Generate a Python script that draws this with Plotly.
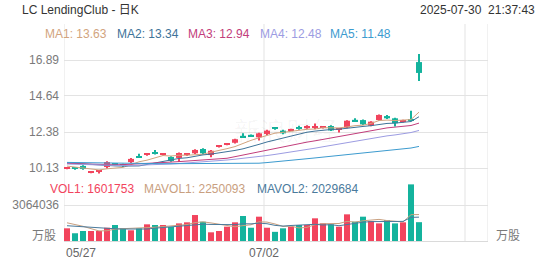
import plotly.graph_objects as go

# ---------------- data ----------------
dates = ["05/27", "07/02"]
date_idx = [0, 25]
idx = list(range(45))

opens = [10.10, 10.09, 10.26, 9.86, 9.88, 10.19, 10.38, 10.35, 10.50, 10.85,
         10.96, 11.06, 10.96, 10.82, 10.76, 10.96, 11.05, 11.32, 10.94, 11.48,
         11.60, 11.71, 12.10, 12.17, 12.05, 12.26, 12.62, 12.47, 12.50, 12.62,
         12.62, 12.66, 12.66, 12.76, 12.52, 12.66, 13.10, 13.13, 12.78, 13.13,
         13.38, 13.24, 13.02, 13.15, 16.76]
highs = [10.20, 10.15, 10.30, 9.95, 9.96, 10.55, 10.45, 10.40, 10.75, 11.02,
         11.05, 11.25, 11.05, 10.86, 11.10, 11.03, 11.30, 11.36, 11.25, 11.56,
         11.68, 11.96, 12.30, 12.22, 12.33, 12.52, 12.68, 12.52, 12.58, 12.78,
         12.80, 12.92, 12.76, 12.80, 12.62, 13.12, 13.25, 13.16, 13.06, 13.48,
         13.45, 13.28, 13.15, 13.72, 17.27]
lows = [10.05, 10.02, 10.02, 9.80, 9.78, 10.10, 10.28, 10.20, 10.45, 10.78,
        10.90, 10.98, 10.92, 10.52, 10.50, 10.92, 11.00, 11.00, 10.80, 11.42,
        11.55, 11.66, 12.00, 12.08, 11.85, 12.20, 12.52, 12.25, 12.44, 12.52,
        12.58, 12.55, 12.60, 12.45, 12.35, 12.62, 13.02, 12.82, 12.74, 13.08,
        13.20, 12.72, 12.98, 13.06, 15.58]
closes = [10.13, 10.07, 10.07, 9.88, 9.90, 10.50, 10.32, 10.26, 10.70, 10.80,
          11.00, 11.03, 11.00, 10.57, 11.07, 10.99, 11.26, 11.05, 11.21, 11.52,
          11.65, 11.93, 12.07, 12.13, 12.30, 12.47, 12.58, 12.30, 12.53, 12.58,
          12.76, 12.70, 12.69, 12.48, 12.55, 13.09, 13.07, 12.86, 13.03, 13.45,
          13.24, 12.93, 13.10, 13.10, 16.08]

ma1 = [10.25, 10.20, 10.15, 10.08, 10.01, 10.08, 10.13, 10.17, 10.34, 10.52,
       10.62, 10.76, 10.91, 10.88, 10.93, 10.93, 10.98, 10.99, 11.12, 11.21,
       11.34, 11.47, 11.68, 11.86, 12.02, 12.18, 12.31, 12.36, 12.44, 12.49,
       12.55, 12.57, 12.65, 12.64, 12.64, 12.70, 12.78, 12.81, 12.92, 13.10,
       13.13, 13.10, 13.15, 13.16, 13.63]
ma2 = [10.45, 10.42, 10.38, 10.33, 10.29, 10.27, 10.26, 10.25, 10.25, 10.26,
       10.35, 10.45, 10.54, 10.61, 10.73, 10.77, 10.87, 10.95, 11.00, 11.07,
       11.14, 11.23, 11.33, 11.49, 11.61, 11.76, 11.89, 12.02, 12.15, 12.25,
       12.37, 12.44, 12.50, 12.54, 12.56, 12.63, 12.68, 12.73, 12.78, 12.87,
       12.92, 12.94, 12.98, 13.04, 13.34]
ma3 = [10.42, 10.40, 10.38, 10.35, 10.33, 10.33, 10.33, 10.34, 10.36, 10.38,
       10.41, 10.44, 10.47, 10.50, 10.53, 10.56, 10.59, 10.61, 10.64, 10.67,
       10.74, 10.84, 10.94, 11.05, 11.17, 11.27, 11.38, 11.48, 11.57, 11.66,
       11.75, 11.83, 11.92, 12.01, 12.09, 12.19, 12.28, 12.37, 12.46, 12.56,
       12.64, 12.69, 12.74, 12.79, 12.94]
ma4 = [10.38, 10.36, 10.34, 10.32, 10.30, 10.29, 10.28, 10.28, 10.29, 10.30,
       10.32, 10.34, 10.36, 10.38, 10.41, 10.44, 10.47, 10.50, 10.54, 10.58,
       10.63, 10.68, 10.73, 10.78, 10.84, 10.91, 10.98, 11.05, 11.12, 11.20,
       11.28, 11.37, 11.46, 11.55, 11.63, 11.72, 11.81, 11.90, 11.98, 12.06,
       12.14, 12.20, 12.27, 12.35, 12.48]
ma5 = [10.48, 10.47, 10.46, 10.45, 10.44, 10.43, 10.42, 10.41, 10.41, 10.40,
       10.40, 10.40, 10.40, 10.40, 10.40, 10.40, 10.40, 10.40, 10.41, 10.41,
       10.42, 10.42, 10.42, 10.42, 10.43, 10.47, 10.51, 10.56, 10.61, 10.66,
       10.71, 10.76, 10.81, 10.86, 10.91, 10.96, 11.01, 11.06, 11.12, 11.17,
       11.22, 11.28, 11.33, 11.38, 11.48]

volumes = [1080000, 660000, 850000, 850000, 850000, 1130000, 1360000, 1080000, 910000, 1080000,
           1420000, 1360000, 1360000, 1190000, 1500000, 1590000, 2210000, 1640000, 740000, 850000,
           1220000, 1590000, 2130000, 1130000, 2070000, 1130000, 780000, 1080000, 1220000, 1360000,
           1360000, 1930000, 1500000, 1420000, 1220000, 2270000, 1640000, 2070000, 1700000, 1500000,
           1790000, 1500000, 1590000, 4820000, 1601753]
mavol1 = [1550000, 1420000, 1250000, 1050000, 860000, 870000, 1010000, 1050000, 1070000, 1110000,
          1170000, 1170000, 1230000, 1280000, 1370000, 1400000, 1570000, 1630000, 1540000, 1410000,
          1330000, 1210000, 1310000, 1380000, 1630000, 1610000, 1450000, 1240000, 1260000, 1110000,
          1160000, 1390000, 1470000, 1510000, 1490000, 1670000, 1610000, 1720000, 1780000, 1840000,
          1740000, 1710000, 1620000, 2240000, 2250093]
mavol2 = [1300000, 1250000, 1200000, 1150000, 1100000, 1070000, 1040000, 1020000, 1000000, 990000,
          1020000, 1090000, 1140000, 1170000, 1240000, 1290000, 1370000, 1430000, 1410000, 1390000,
          1370000, 1390000, 1470000, 1460000, 1520000, 1470000, 1330000, 1270000, 1320000, 1370000,
          1390000, 1420000, 1360000, 1390000, 1300000, 1410000, 1500000, 1600000, 1650000, 1660000,
          1700000, 1660000, 1670000, 2010000, 2029684]

price_ticks = [10.13, 12.38, 14.64, 16.89]
vol_ticks = [3064036]

title_text = "LC LendingClub - 日K"
time_text = "2025-07-30  21:37:43"
ma_legend = [("MA1", ma1[-1]), ("MA2", ma2[-1]), ("MA3", ma3[-1]), ("MA4", ma4[-1]), ("MA5", ma5[-1])]
vol_legend = [("VOL1", volumes[-1]), ("MAVOL1", mavol1[-1]), ("MAVOL2", mavol2[-1])]

# ---------------- style ----------------
W, H = 552, 265
L, R, T, B = 64, 488, 24, 241
RED = "#F2445D"
TEAL = "#14B39D"
MA_COLORS = ["#D2A47E", "#3E7399", "#C23D7B", "#9C9CE2", "#3C9BCF"]
VOL_COLORS = [RED, "#C9A07F", "#4A7A9C"]
GRID = "#E3E3E3"
FONT = 'Arial, "Liberation Sans", "Noto Sans CJK SC", sans-serif'

PX = (B - T)
def py(y):  # pixel y -> paper
    return (B - y) / PX

x_lo, x_hi = -0.375, 52.625
price_dom = [py(178), 1.0]
vol_dom = [0.0, py(180)]
ppp = (168 - 60) / (price_ticks[-1] - price_ticks[0])   # pixels per price unit
p_top = price_ticks[-1] + (60 - T) / ppp
p_bot = price_ticks[0] - (178 - 168) / ppp
vpp = (241 - 205) / vol_ticks[0]
v_top = (241 - 180) / vpp
min_body = 1.2 / ppp

fig = go.Figure()

colors = [RED if c >= o else TEAL for o, c in zip(opens, closes)]
# wicks
fig.add_trace(go.Bar(x=idx, base=lows, y=[h - l for h, l in zip(highs, lows)],
                     width=0.14, marker=dict(color=colors, line=dict(width=0)),
                     xaxis="x", yaxis="y", showlegend=False, hoverinfo="skip"))
# bodies
fig.add_trace(go.Bar(x=idx, base=[min(o, c) for o, c in zip(opens, closes)],
                     y=[max(abs(c - o), min_body) for o, c in zip(opens, closes)],
                     width=0.75, marker=dict(color=colors, line=dict(width=0)),
                     xaxis="x", yaxis="y", showlegend=False, hoverinfo="skip"))

for series, col in zip([ma1, ma2, ma3, ma4, ma5], MA_COLORS):
    fig.add_trace(go.Scatter(x=idx, y=series, mode="lines",
                             line=dict(color=col, width=1), xaxis="x", yaxis="y",
                             showlegend=False, hoverinfo="skip"))

fig.add_trace(go.Bar(x=idx, y=volumes, marker=dict(color=colors, line=dict(width=0)),
                     width=0.75, xaxis="x2", yaxis="y3", showlegend=False, hoverinfo="skip"))
for s, col in zip([mavol1, mavol2], VOL_COLORS[1:]):
    fig.add_trace(go.Scatter(x=idx, y=s, mode="lines", line=dict(color=col, width=1),
                             xaxis="x2", yaxis="y3", showlegend=False, hoverinfo="skip"))

tickfont = dict(family=FONT, size=12, color="#7A7A7A")
common_x = dict(range=[x_lo, x_hi], showticklabels=False, showgrid=False, zeroline=False,
                fixedrange=True)
fig.update_layout(
    width=W, height=H,
    margin=dict(l=L, r=W - R, t=T, b=H - B, pad=0),
    paper_bgcolor="white", plot_bgcolor="white",
    font=dict(family=FONT),
    barmode="overlay",
    xaxis=dict(domain=[0, 1], anchor="y", **common_x),
    xaxis2=dict(domain=[0, 1], anchor="y3", matches="x", showline=True, linecolor="#DADADA",
                linewidth=1, **common_x),
    yaxis=dict(domain=price_dom, range=[p_bot, p_top], tickvals=price_ticks,
               ticktext=[f"{v:.2f}" for v in price_ticks], side="left",
               showgrid=True, gridcolor=GRID, gridwidth=1, zeroline=False,
               tickfont=tickfont, ticks="", ticklabelstandoff=4),
    yaxis2=dict(domain=price_dom, range=[p_bot, p_top], tickvals=price_ticks,
                ticktext=[f"{v:.2f}" for v in price_ticks], side="right",
                overlaying="y", anchor="x", showgrid=False, zeroline=False,
                tickfont=tickfont, ticks="", ticklabelstandoff=4),
    yaxis3=dict(domain=vol_dom, range=[0, v_top], tickvals=vol_ticks,
                ticktext=[str(v) for v in vol_ticks], side="left", anchor="x2",
                showgrid=True, gridcolor=GRID, zeroline=False,
                tickfont=tickfont, ticks="", ticklabelstandoff=4),
    yaxis4=dict(domain=vol_dom, range=[0, v_top], tickvals=vol_ticks,
                ticktext=[str(v) for v in vol_ticks], side="right",
                overlaying="y3", anchor="x2", showgrid=False, zeroline=False,
                tickfont=tickfont, ticks="", ticklabelstandoff=4),
)

# frame / vertical grid lines
shapes = []
for xv in [x_lo] + [d - 0.375 for d in date_idx[1:]] + [49.75, x_hi]:
    shapes.append(dict(type="line", xref="x", yref="paper", x0=xv, x1=xv, y0=0, y1=1,
                       line=dict(color=GRID, width=1), layer="below"))
fig.update_layout(shapes=shapes)

ann = []
def text(px, pyy, s, color, size=12, anchor="left"):
    ann.append(dict(xref="paper", yref="paper", x=(px - L) / (R - L), y=py(pyy), text=s,
                    showarrow=False, xanchor=anchor, yanchor="middle",
                    font=dict(family=FONT, size=size, color=color)))

# faint watermark (drawn first, beneath other text)
text(232, 132, "新浪财经", "rgba(0,0,0,0.035)", size=26)

text(20, 10, title_text, "#333333")
text(537, 10, time_text, "#333333", anchor="right")

ma_x = [43, 115, 186, 258, 328]
for (n, v), col, xx in zip(ma_legend, MA_COLORS, ma_x):
    text(xx, 34, f"{n}: {v:.2f}", col)
vol_x = [48, 142, 255]
for (n, v), col, xx in zip(vol_legend, VOL_COLORS, vol_x):
    text(xx, 189, f"{n}: {v}", col)

text(58, 236, "万股", "#7A7A7A", anchor="right")
text(494, 236, "万股", "#7A7A7A", anchor="left")

for i, (d, di) in enumerate(zip(dates, date_idx)):
    ann.append(dict(xref="x2", yref="paper", x=di - 0.375, y=py(253), text=d, showarrow=False,
                    xanchor="left" if i == 0 else "center", yanchor="middle",
                    font=dict(family=FONT, size=12, color="#666666")))

fig.update_layout(annotations=ann)
fig.write_html("out.html")
